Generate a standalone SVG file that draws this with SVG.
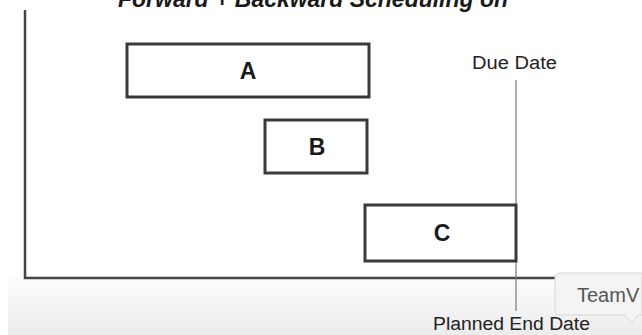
<svg xmlns="http://www.w3.org/2000/svg" width="642" height="335" viewBox="0 0 642 335">
  <defs>
    <linearGradient id="floor" x1="0" y1="0" x2="0" y2="1">
      <stop offset="0" stop-color="#fdfdfd"/>
      <stop offset="1" stop-color="#ececec"/>
    </linearGradient>
    <style>
      .bar { fill: #ffffff; stroke: #3a3a3a; stroke-width: 3; }
      .lbl { font-family: "Liberation Sans", Arial, sans-serif; font-weight: bold; font-size: 23px; fill: #1a1a1a; text-anchor: middle; }
      .note { font-family: "Liberation Sans", Arial, sans-serif; font-size: 18px; fill: #222; }
      .axis { stroke: #444; stroke-width: 2.5; fill: none; }
    </style>
  </defs>

  <rect width="642" height="335" fill="#ffffff"/>
  <rect x="8" y="274" width="634" height="61" fill="url(#floor)"/>

  <!-- title, clipped at the top edge -->
  <text x="313" y="7" text-anchor="middle" font-family="'Liberation Sans', Arial, sans-serif" font-weight="bold" font-style="italic" font-size="23" fill="#1a1a1a" textLength="390" lengthAdjust="spacingAndGlyphs">Forward + Backward Scheduling on</text>

  <!-- axes -->
  <g id="axes">
    <path class="axis" d="M25 10 V278 H556"/>
  </g>

  <!-- date markers -->
  <g id="connectors">
    <line x1="516" y1="80" x2="516" y2="311" stroke="#777" stroke-width="1.2"/>
  </g>

  <g id="A">
    <rect class="bar" x="127" y="44" width="242" height="53"/>
    <text class="lbl" x="248" y="79">A</text>
  </g>
  <g id="B">
    <rect class="bar" x="265" y="120" width="102" height="53"/>
    <text class="lbl" x="317" y="155">B</text>
  </g>
  <g id="C">
    <rect class="bar" x="365" y="205" width="151" height="56"/>
    <text class="lbl" x="442" y="241">C</text>
  </g>

  <g id="due-date">
    <text class="note" x="472" y="69" textLength="85" lengthAdjust="spacingAndGlyphs">Due Date</text>
  </g>
  <g id="planned-end">
    <text class="note" x="433" y="330" textLength="157" lengthAdjust="spacingAndGlyphs">Planned End Date</text>
  </g>

  <!-- notification balloon at the bottom right -->
  <g id="teamviewer">
    <path d="M560 273 H642 V315 H638 L632 323 L625 315 H560 Q555 315 555 310 V278 Q555 273 560 273 Z" fill="#f4f4f4" stroke="#d6d6d6" stroke-width="1"/>
    <text x="577" y="302" font-family="'Liberation Sans', Arial, sans-serif" font-size="20" fill="#555">TeamV</text>
  </g>
</svg>
